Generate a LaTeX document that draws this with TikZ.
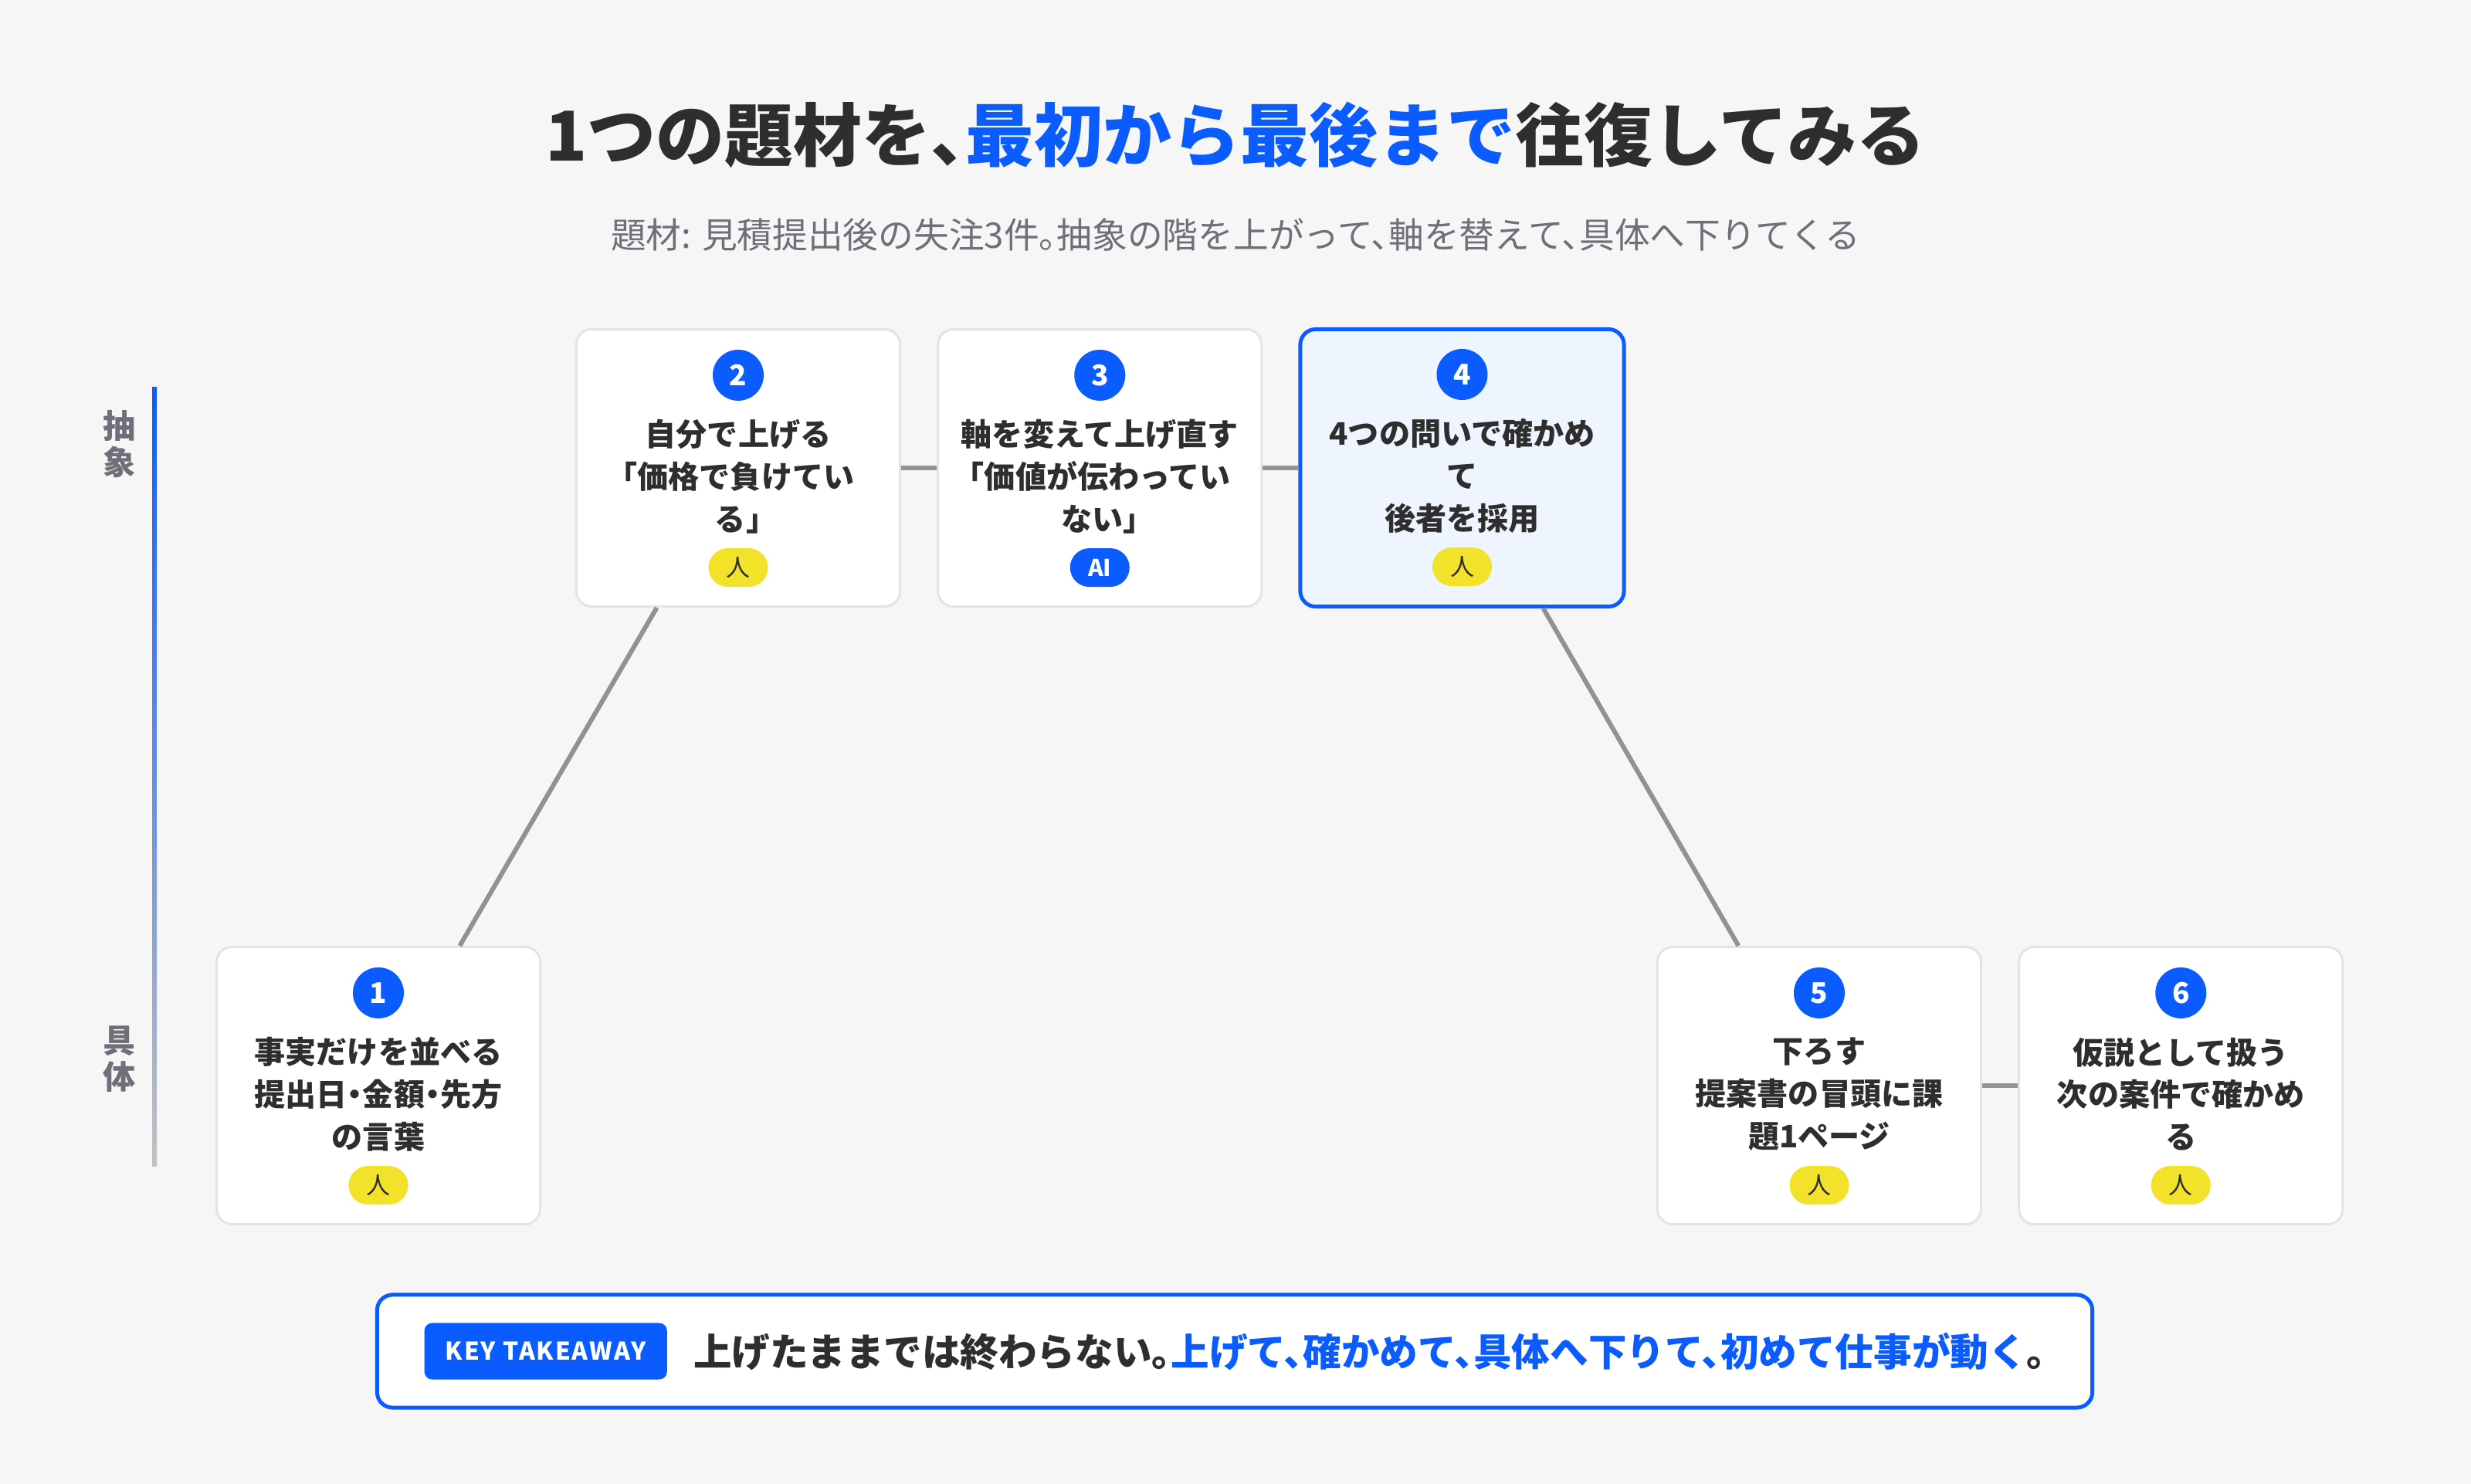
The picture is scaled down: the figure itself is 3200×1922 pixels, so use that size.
\documentclass[tikz,border=0pt]{standalone}
\usepackage{fontspec}
\setmainfont{Noto Sans CJK JP}[RawFeature=+halt]
\usepackage{tikz}
\usetikzlibrary{positioning}
\usepackage{xcolor}

\definecolor{pagebg}{HTML}{F6F6F6}
\definecolor{ink}{HTML}{2E2E2E}
\definecolor{accent}{HTML}{0A5CFF}
\definecolor{subgray}{HTML}{6E6F78}
\definecolor{cardline}{HTML}{E3E3E8}
\definecolor{selbg}{HTML}{EFF5FF}
\definecolor{tagyel}{HTML}{F2E229}
\definecolor{linkgray}{HTML}{929292}
\definecolor{axisgray}{HTML}{C2C2C2}

\begin{document}
\begin{tikzpicture}[
    x=0.01cm, y=-0.01cm,
    card/.style={draw=cardline, line width=0.85pt, fill=white, rounded corners=0.2cm, minimum width=4.19cm, minimum height=3.59cm},
    cardsel/.style={card, draw=accent, line width=1.4pt, fill=selbg},
    num/.style={circle, fill=accent, text=white, minimum size=0.66cm, inner sep=0pt, font=\bfseries\fontsize{10.5}{10.5}\selectfont},
    txt/.style={align=center, inner sep=0pt, text=ink, font=\bfseries\fontsize{11.4}{15.6}\selectfont},
    tag/.style={fill=tagyel, text=ink, rounded corners=0.25cm, minimum width=0.77cm, minimum height=0.5cm, inner sep=0pt, font=\fontsize{8.8}{8.8}\selectfont},
    tagai/.style={tag, fill=accent, text=white, font=\bfseries\fontsize{8.5}{8.5}\selectfont},
    axislbl/.style={align=center, inner sep=0pt, text=subgray, font=\bfseries\fontsize{12}{13.4}\selectfont},
    link/.style={draw=linkgray, line width=1.7pt},
]
\fill[pagebg] (0,0) rectangle (3200,1922);

% Heading
\node[text=ink, font=\bfseries\fontsize{25.3}{25.3}\selectfont] (title) at (1600,175)
    {1つの題材を、\textcolor{accent}{最初から最後まで}往復してみる};
\node[text=subgray, font=\fontsize{13}{13}\selectfont] (sub) at (1600,304)
    {題材: 見積提出後の失注3件。抽象の階を上がって、軸を替えて、具体へ下りてくる};

% Abstract / concrete axis
\shade[top color=accent, bottom color=axisgray] (197,502) rectangle (203,1510);
\node[axislbl] (abs) at (155,575) {抽\\象};
\node[axislbl] (conc) at (155,1372) {具\\体};

% Cards: up, across, down
\node[card] (c1) at (490,1406) {};
\node[card] (c2) at (956,606) {};
\node[card, right=0.46cm of c2] (c3) {};
\node[cardsel, right=0.46cm of c3] (c4) {};
\node[card] (c5) at (2356,1406) {};
\node[card, right=0.46cm of c5] (c6) {};

\draw[link] (c1) -- (c2);
\draw[link] (c2) -- (c3);
\draw[link] (c3) -- (c4);
\draw[link] (c4) -- (c5);
\draw[link] (c5) -- (c6);

% Card contents
\node[num] (n1) at ([yshift=-0.61cm] c1.north) {1};
\node[txt] (t1) at ([yshift=-1.92cm] c1.north) {事実だけを並べる\\提出日・金額・先方\\の言葉};
\node[tag] (w1) at ([yshift=-3.10cm] c1.north) {人};

\node[num] (n2) at ([yshift=-0.61cm] c2.north) {2};
\node[txt] (t2) at ([yshift=-1.92cm] c2.north) {自分で上げる\\「価格で負けてい\\る」};
\node[tag] (w2) at ([yshift=-3.10cm] c2.north) {人};

\node[num] (n3) at ([yshift=-0.61cm] c3.north) {3};
\node[txt] (t3) at ([yshift=-1.92cm] c3.north) {軸を変えて上げ直す\\「価値が伝わってい\\ない」};
\node[tagai] (w3) at ([yshift=-3.10cm] c3.north) {AI};

\node[num] (n4) at ([yshift=-0.61cm] c4.north) {4};
\node[txt] (t4) at ([yshift=-1.92cm] c4.north) {4つの問いで確かめ\\て\\後者を採用};
\node[tag] (w4) at ([yshift=-3.10cm] c4.north) {人};

\node[num] (n5) at ([yshift=-0.61cm] c5.north) {5};
\node[txt] (t5) at ([yshift=-1.92cm] c5.north) {下ろす\\提案書の冒頭に課\\題1ページ};
\node[tag] (w5) at ([yshift=-3.10cm] c5.north) {人};

\node[num] (n6) at ([yshift=-0.61cm] c6.north) {6};
\node[txt] (t6) at ([yshift=-1.92cm] c6.north) {仮説として扱う\\次の案件で確かめ\\る};
\node[tag] (w6) at ([yshift=-3.10cm] c6.north) {人};

% Takeaway
\node[draw=accent, line width=1.42pt, fill=white, rounded corners=0.2cm, minimum width=22.2cm, minimum height=1.46cm] (box) at (1599,1750) {};
\node[fill=accent, text=white, rounded corners=0.1cm, minimum width=3.14cm, minimum height=0.73cm, inner sep=0pt,
    font=\bfseries\fontsize{9}{9}\selectfont\addfontfeatures{LetterSpace=6}, right=0.63cm of box.west] (key) {KEY TAKEAWAY};
\node[right=0.33cm of key, inner sep=0pt, text=ink, font=\bfseries\fontsize{14.1}{14.1}\selectfont] (msg)
    {上げたままでは終わらない。\textcolor{accent}{上げて、確かめて、具体へ下りて、初めて仕事が動く}。};

\end{tikzpicture}
\end{document}
